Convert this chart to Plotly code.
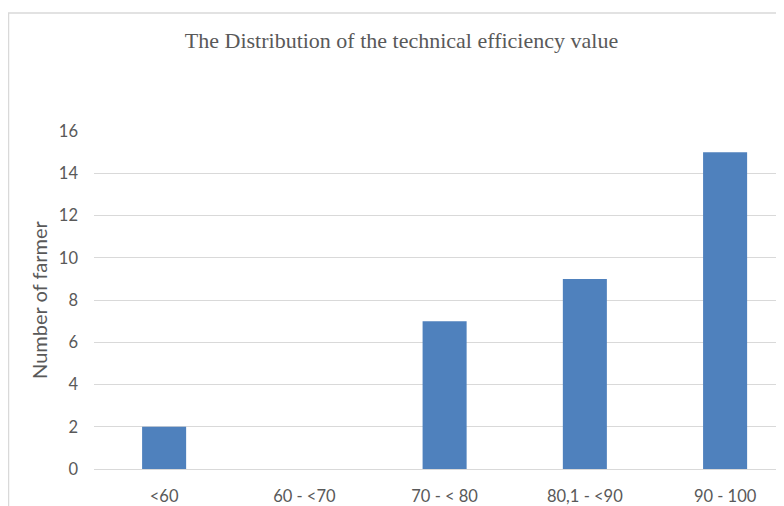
import plotly.graph_objects as go

categories = ["<60", "60 - <70", "70 - < 80", "80,1 - <90", "90 - 100"]
farmers = [2, 0, 7, 9, 15]
y_ticks = [0, 2, 4, 6, 8, 10, 12, 14, 16]

# page has an 8px body margin; figure coordinates are page coords minus 8
OFF = 8
W, H = 784 - OFF, 506 - OFF
L, R, T = 94 - OFF, 0, 131 - OFF
B = H - (472 - OFF)
pw, ph = W - L - R, H - T - B

fig = go.Figure(go.Bar(
    x=list(range(len(categories))), y=farmers, width=0.314,
    marker=dict(color="#4f81bd", line=dict(width=0)),
))

fig.update_layout(
    width=W, height=H,
    margin=dict(l=L, r=R, t=T, b=B),
    paper_bgcolor="white", plot_bgcolor="white",
    showlegend=False,
    title=dict(text="The Distribution of the technical efficiency value",
               x=(401.5 - OFF) / W, xanchor="center", y=1 - (40 - OFF) / H, yanchor="middle",
               font=dict(family="Liberation Serif", size=22, color="#595959")),
    font=dict(family="Lato", color="#595959", size=16.5),
    shapes=[dict(type="rect", xref="paper", yref="paper",
                 x0=(0.5 - L) / pw, x1=1.1, y0=-0.3, y1=1 + (T - 4) / ph,
                 line=dict(color="#d9d9d9", width=1.5), layer="below")],
)
fig.update_xaxes(
    tickmode="array", tickvals=list(range(len(categories))), ticktext=categories,
    range=[-0.5, 4.42], showgrid=False, zeroline=False, showline=False,
    ticks="", ticklabelstandoff=15, tickfont=dict(size=16.5, color="#595959"),
)
fig.update_yaxes(
    range=[0, 16], tickmode="array", tickvals=y_ticks,
    showgrid=True, gridcolor="#d9d9d9", gridwidth=1,
    zeroline=True, zerolinecolor="#d9d9d9", zerolinewidth=1,
    showline=False, ticks="", ticklabelstandoff=15,
    tickfont=dict(size=16.5, color="#595959"),
    title=dict(text="Number of farmer", standoff=5,
               font=dict(family="Lato", size=20, color="#595959")),
)

fig.write_html("out.html")
